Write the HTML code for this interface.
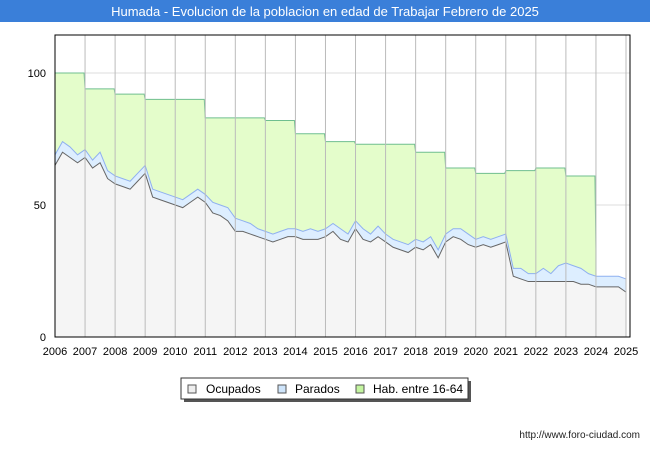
<!DOCTYPE html>
<html><head><meta charset="utf-8"><style>
body{margin:0;width:650px;height:450px;background:#fff;font-family:"Liberation Sans","DejaVu Sans",sans-serif;overflow:hidden}
</style></head><body>
<svg id="c" width="650" height="450" xmlns="http://www.w3.org/2000/svg">
<rect x="0" y="0" width="650" height="22" fill="#3a7fd9"/>
<text x="325" y="16" text-anchor="middle" fill="#fff" font-size="13">Humada - Evolucion de la poblacion en edad de Trabajar Febrero de 2025</text>
<g id="plot"></g>
<g>
<rect x="184" y="381" width="287" height="21" fill="#555"/>
<rect x="181" y="378" width="287" height="21" fill="#fff" stroke="#333"/>
<g><rect x="188" y="385" width="8" height="8" fill="#eee" stroke="#555"/><text x="206" y="393" font-size="12">Ocupados</text></g>
<g><rect x="278" y="385" width="8" height="8" fill="#cfe5fb" stroke="#555"/><text x="295" y="393" font-size="12">Parados</text></g>
<g><rect x="356" y="385" width="8" height="8" fill="#c4f5a0" stroke="#555"/><text x="373" y="393" font-size="12">Hab. entre 16-64</text></g>
</g>
<text x="640" y="438" text-anchor="end" font-size="10" fill="#222">http://www.foro-ciudad.com</text>
</svg>
<script>
const years=[2006,2007,2008,2009,2010,2011,2012,2013,2014,2015,2016,2017,2018,2019,2020,2021,2022,2023,2024,2025];
const habValues=[100,94,92,90,90,83,83,82,77,74,73,73,70,64,62,63,64,61];
const ocupados=[65,70,68,66, 68,64,66,60, 58,57,56,59, 62,53,52,51, 50,49,51,53, 51,47,46,44, 40,40,39,38, 37,36,37,38, 38,37,37,37, 38,40,37,36, 41,37,36,38, 36,34,33,32, 34,33,35,30, 36,38,37,35, 34,35,34,35, 36,23,22,21, 21,21,21,21, 21,21,20,20, 19,19,19,19, 17];
const parados=[4,4,4,3, 3,3,4,3, 3,3,3,3, 3,3,3,3, 3,3,3,3, 3,4,4,5, 5,4,4,3, 3,3,3,3, 3,3,4,3, 3,3,4,3, 3,4,3,4, 3,3,3,3, 3,3,3,3, 3,3,4,4, 3,3,3,3, 3,3,4,3, 3,5,3,6, 7,6,6,4, 4,4,4,4, 5];
const yTicks=[0,50,100];
const L=55,R=630,T=35,B=337;
const x=t=>L+(t-2006)*(R-L-4)/19;
const y=v=>B-v*(B-73)/100;
const ns="http://www.w3.org/2000/svg",g=document.getElementById('plot');
function mk(tag,a,parent){const e=document.createElementNS(ns,tag);for(const k in a)e.setAttribute(k,a[k]);(parent||g).appendChild(e);return e;}
// grid
yTicks.forEach(v=>{const l=mk('line',{x1:L,x2:R,y1:y(v),y2:y(v),stroke:'#ddd'});

const t=mk('text',{x:46,y:y(v)+4,'text-anchor':'end','font-size':11});t.textContent=v;
});
// hab area
let hp=`M${x(2006)},${B}`;habValues.forEach((v,i)=>{hp+=` L${x(years[i])},${y(v)} L${x(years[i]+1)-1},${y(v)}`;});
const last=habValues.length;hp+=` L${x(2006+last)},${y(33)} L${x(2006+last)},${B} Z`;
const ha=mk('path',{d:hp,fill:'#e4fdcb',stroke:'#6fbf8f','stroke-width':1});

const tx=i=>2006+i/4;
let tot='',oc='';
ocupados.forEach((v,i)=>{tot+=(i?' L':'M')+x(tx(i))+','+y(v+parados[i]);oc+=(i?' L':'M')+x(tx(i))+','+y(v);});
const xe=x(tx(ocupados.length-1));
const pa=mk('path',{d:tot+` L${xe},${B} L${x(2006)},${B} Z`,fill:'#ddeeff',stroke:'#8fb0f0','stroke-width':1});

const oa=mk('path',{d:oc+` L${xe},${B} L${x(2006)},${B} Z`,fill:'#f5f5f5',stroke:'#666','stroke-width':1});

years.forEach(yr=>{const l=mk('line',{x1:x(yr),x2:x(yr),y1:T,y2:B,stroke:'#bbb'});

const t=mk('text',{x:x(yr),y:355,'text-anchor':'middle','font-size':11});t.textContent=yr;
});
const fr=mk('rect',{x:L,y:T,width:R-L,height:B-T,fill:'none',stroke:'#000'});

</script>
</body></html>
